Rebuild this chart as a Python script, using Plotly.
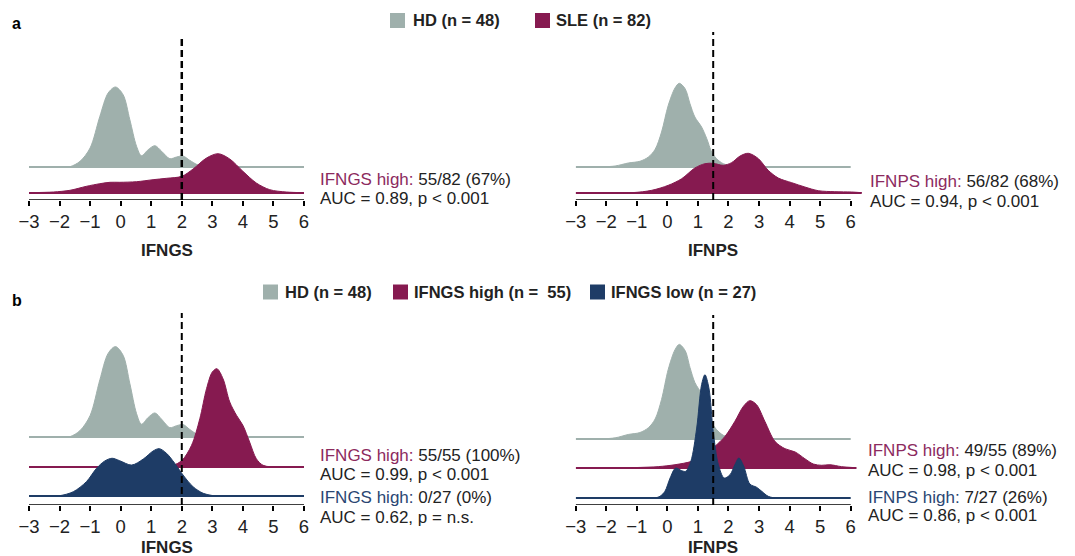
import plotly.graph_objects as go

W, H = 1075, 556

# ---------------- data (density estimates) ----------------
hd_ifngs_x = [-2.0, -1.66, -1.33, -1.0, -0.68, -0.41, -0.17, 0.08, 0.30, 0.52, 0.68, 0.90, 1.12, 1.34, 1.61, 1.83, 2.04, 2.26, 2.53, 2.81, 3.2]
hd_ifngs_d = [0, 0.003, 0.057, 0.19, 0.507, 0.74, 0.80, 0.723, 0.473, 0.207, 0.113, 0.173, 0.213, 0.157, 0.083, 0.10, 0.11, 0.067, 0.02, 0.003, 0]

sle_ifngs_x = [-3.0, -2.2, -1.66, -1.12, -0.68, -0.35, -0.03, 0.52, 1.06, 1.5, 2.0, 2.37, 2.81, 3.19, 3.57, 4.0, 4.44, 4.88, 5.42, 6.0]
sle_ifngs_d = [0.003, 0.01, 0.027, 0.067, 0.093, 0.107, 0.107, 0.113, 0.133, 0.147, 0.167, 0.24, 0.35, 0.393, 0.34, 0.217, 0.10, 0.033, 0.01, 0.003]

hd_ifnps_x = [-2.26, -1.71, -1.28, -0.9, -0.62, -0.40, -0.19, 0.03, 0.25, 0.39, 0.58, 0.74, 0.9, 1.12, 1.29, 1.45, 1.61, 1.83, 2.1, 2.43]
hd_ifnps_d = [0, 0.01, 0.04, 0.057, 0.10, 0.177, 0.35, 0.617, 0.79, 0.837, 0.783, 0.633, 0.50, 0.40, 0.283, 0.15, 0.083, 0.033, 0.01, 0]

sle_ifnps_x = [-3.0, -1.17, -0.51, 0.03, 0.47, 0.9, 1.23, 1.5, 1.83, 2.1, 2.38, 2.65, 2.98, 3.3, 3.63, 4.07, 4.5, 4.94, 5.48, 6.03, 6.36]
sle_ifnps_d = [0, 0.003, 0.027, 0.077, 0.143, 0.25, 0.293, 0.297, 0.277, 0.303, 0.37, 0.397, 0.343, 0.227, 0.15, 0.103, 0.06, 0.023, 0.013, 0.01, 0.003]

high_ifngs_x = [1.39, 1.72, 2.01, 2.32, 2.59, 2.81, 3.0, 3.15, 3.35, 3.57, 3.79, 4.0, 4.22, 4.44, 4.66, 4.98]
high_ifngs_d = [0, 0.015, 0.059, 0.192, 0.427, 0.693, 0.841, 0.870, 0.781, 0.575, 0.458, 0.369, 0.221, 0.073, 0.015, 0]

low_ifngs_x = [-2.3, -1.99, -1.55, -1.12, -0.79, -0.52, -0.28, -0.03, 0.36, 0.74, 1.06, 1.26, 1.5, 1.77, 2.04, 2.37, 2.7, 3.02]
low_ifngs_d = [0, 0.003, 0.038, 0.127, 0.245, 0.310, 0.334, 0.312, 0.274, 0.327, 0.398, 0.419, 0.378, 0.289, 0.186, 0.082, 0.024, 0.003]

high_ifnps_x = [-1.17, -0.3, 0.25, 0.8, 1.23, 1.56, 1.89, 2.21, 2.49, 2.70, 2.92, 3.19, 3.52, 3.85, 4.18, 4.5, 4.78, 5.05, 5.32, 5.7, 6.14]
high_ifnps_d = [0.003, 0.012, 0.029, 0.059, 0.112, 0.192, 0.281, 0.413, 0.546, 0.596, 0.560, 0.413, 0.236, 0.171, 0.142, 0.082, 0.035, 0.024, 0.029, 0.012, 0.003]

low_ifnps_x = [-0.4, -0.24, -0.08, 0.09, 0.27, 0.47, 0.6, 0.77, 0.96, 1.12, 1.23, 1.36, 1.5, 1.67, 1.86, 2.05, 2.21, 2.34, 2.5, 2.7, 2.92, 3.09, 3.3, 3.52]
low_ifnps_d = [0, 0.015, 0.059, 0.177, 0.265, 0.242, 0.236, 0.325, 0.619, 1.003, 1.091, 0.973, 0.590, 0.295, 0.177, 0.206, 0.295, 0.354, 0.281, 0.124, 0.095, 0.059, 0.015, 0]

thresholds = {"IFNGS": 2.0, "IFNPS": 1.5}
tick_vals = [-3, -2, -1, 0, 1, 2, 3, 4, 5, 6]

legend_a = ["HD (n = 48)", "SLE (n = 82)"]
legend_b = ["HD (n = 48)", "IFNGS high (n =\u00a0 55)", "IFNGS low (n = 27)"]

# ---------------- styling ----------------
C_HD = "#9fb0ac"
C_HI = "#861a50"
C_LO = "#1e3c66"
T_HI = "#8c2a5e"
T_LO = "#2a4673"
TXT = "#222222"
FONT = "Liberation Sans, Arial, sans-serif"

def fx(p):
    return p / W

def fy(p):
    return 1 - p / H

fig = go.Figure()

LEFT_X = (29, 304)          # -3 .. 6 in pixels
RIGHT_X = (575.7, 850.7)    # -3 .. 6 in pixels
ppu = (LEFT_X[1] - LEFT_X[0]) / 9.0

panels = [
    dict(ax=1, xpx=LEFT_X, xmax=6.0, axis_y=200, top_y=30, scale=100, var="IFNGS", dtop=38, dw=2.5, ty=250,
         groups=[(hd_ifngs_x, hd_ifngs_d, C_HD, 33, 6.0), (sle_ifngs_x, sle_ifngs_d, C_HI, 7, 6.0)]),
    dict(ax=2, xpx=RIGHT_X, xmax=6.4, axis_y=200, top_y=30, scale=100, var="IFNPS", dtop=32, dw=2, ty=250,
         groups=[(hd_ifnps_x, hd_ifnps_d, C_HD, 33, 6.0), (sle_ifnps_x, sle_ifnps_d, C_HI, 7, 6.36)]),
    dict(ax=3, xpx=LEFT_X, xmax=6.0, axis_y=505, top_y=300, scale=113, var="IFNGS", dtop=313, dw=2, ty=547,
         groups=[(hd_ifngs_x, hd_ifngs_d, C_HD, 68, 6.0), (high_ifngs_x, high_ifngs_d, C_HI, 38, 6.0),
                 (low_ifngs_x, low_ifngs_d, C_LO, 9, 6.0)]),
    dict(ax=4, xpx=RIGHT_X, xmax=6.4, axis_y=505, top_y=300, scale=113, var="IFNPS", dtop=315, dw=2, ty=547,
         groups=[(hd_ifnps_x, hd_ifnps_d, C_HD, 66, 6.0), (high_ifnps_x, high_ifnps_d, C_HI, 37, 6.19),
                 (low_ifnps_x, low_ifnps_d, C_LO, 7, 6.0)]),
]

shapes = []
annotations = []
layout_axes = {}

for p in panels:
    i = p["ax"]
    xs = "x" if i == 1 else f"x{i}"
    ys = "y" if i == 1 else f"y{i}"
    x0p = p["xpx"][0]
    x1p = x0p + (p["xmax"] + 3) * ppu
    yr = p["axis_y"] - p["top_y"]
    layout_axes["xaxis" if i == 1 else f"xaxis{i}"] = dict(
        domain=[fx(x0p), fx(x1p)], range=[-3, p["xmax"]], anchor=ys,
        tickmode="array", tickvals=tick_vals, ticks="outside", ticklen=5, tickwidth=1.5,
        tickcolor="black", showline=False, showgrid=False, zeroline=False,
        tickfont=dict(size=18.5, color=TXT, family=FONT), fixedrange=True, automargin=False,
    )
    layout_axes["yaxis" if i == 1 else f"yaxis{i}"] = dict(
        domain=[fy(p["axis_y"]), fy(p["top_y"])], range=[0, yr], anchor=xs,
        visible=False, showgrid=False, zeroline=False, fixedrange=True,
    )
    for gx, gd, col, base, xend in p["groups"]:
        fig.add_trace(go.Scatter(
            x=[-3, xend], y=[base, base], mode="lines", xaxis=xs, yaxis=ys,
            line=dict(color=col, width=2), showlegend=False, hoverinfo="skip"))
        fig.add_trace(go.Scatter(
            x=gx, y=[base + v * p["scale"] for v in gd], mode="lines", xaxis=xs, yaxis=ys,
            line=dict(color=col, width=1, shape="spline", smoothing=0.9),
            fill="tonexty", fillcolor=col, showlegend=False, hoverinfo="skip"))
    shapes.append(dict(type="line", xref=xs, yref=ys, x0=-3, x1=6, y0=0, y1=0,
                       line=dict(color="black", width=1.5)))
    thr = thresholds[p["var"]]
    shapes.append(dict(type="line", xref=xs, yref=ys, x0=thr, x1=thr, y0=0,
                       y1=p["axis_y"] - p["dtop"],
                       line=dict(color="black", width=p["dw"], dash="7px,4px")))
    cx = x0p + 4.5 * ppu
    annotations.append(dict(text=f"<b>{p['var']}</b>", xref="paper", yref="paper",
                            x=fx(cx), y=fy(p["ty"]), xanchor="center", yanchor="middle",
                            showarrow=False, font=dict(size=17, color=TXT, family=FONT)))

fig.update_layout(**layout_axes)

for lab, yy in [("a", 24), ("b", 300)]:
    annotations.append(dict(text=f"<b>{lab}</b>", xref="paper", yref="paper", x=fx(10), y=fy(yy),
                            xanchor="left", yanchor="middle", showarrow=False,
                            font=dict(size=16, color="black", family=FONT)))

def legend_item(sq_x, text_x, yc, col, text):
    shapes.append(dict(type="rect", xref="paper", yref="paper",
                       x0=fx(sq_x), x1=fx(sq_x + 15), y0=fy(yc + 7.5), y1=fy(yc - 7.5),
                       fillcolor=col, line=dict(width=0)))
    annotations.append(dict(text=f"<b>{text}</b>", xref="paper", yref="paper",
                            x=fx(text_x), y=fy(yc), xanchor="left", yanchor="middle",
                            showarrow=False, font=dict(size=16.5, color=TXT, family=FONT)))

legend_item(390, 411, 20.5, C_HD, legend_a[0])
legend_item(535, 554, 20.5, C_HI, legend_a[1])
legend_item(263, 283, 292, C_HD, legend_b[0])
legend_item(393, 412, 292, C_HI, legend_b[1])
legend_item(590, 609, 292, C_LO, legend_b[2])

def stat(x, y, label, col, rest):
    annotations.append(dict(text=f"<span style='color:{col}'>{label}</span> {rest}",
                            xref="paper", yref="paper", x=fx(x), y=fy(y), xanchor="left",
                            yanchor="middle", showarrow=False,
                            font=dict(size=17, color=TXT, family=FONT)))

def plain(x, y, text):
    annotations.append(dict(text=text, xref="paper", yref="paper", x=fx(x), y=fy(y),
                            xanchor="left", yanchor="middle", showarrow=False,
                            font=dict(size=17, color=TXT, family=FONT)))

stat(318, 179, "IFNGS high:", T_HI, "55/82 (67%)")
plain(318, 198.5, "AUC = 0.89, p &lt; 0.001")
stat(868, 182, "IFNPS high:", T_HI, "56/82 (68%)")
plain(868, 202, "AUC = 0.94, p &lt; 0.001")

stat(318, 455, "IFNGS high:", T_HI, "55/55 (100%)")
plain(318, 474, "AUC = 0.99, p &lt; 0.001")
stat(318, 497, "IFNGS high:", T_LO, "0/27 (0%)")
plain(318, 517, "AUC = 0.62, p = n.s.")

stat(866, 450, "IFNPS high:", T_HI, "49/55 (89%)")
plain(866, 470, "AUC = 0.98, p &lt; 0.001")
stat(866, 497, "IFNPS high:", T_LO, "7/27 (26%)")
plain(866, 515, "AUC = 0.86, p &lt; 0.001")

fig.update_layout(
    width=W, height=H, margin=dict(l=0, r=0, t=0, b=0),
    paper_bgcolor="white", plot_bgcolor="white",
    shapes=shapes, annotations=annotations, showlegend=False,
    font=dict(family=FONT, color=TXT),
)

fig.write_html("out.html", config={"displayModeBar": False})
